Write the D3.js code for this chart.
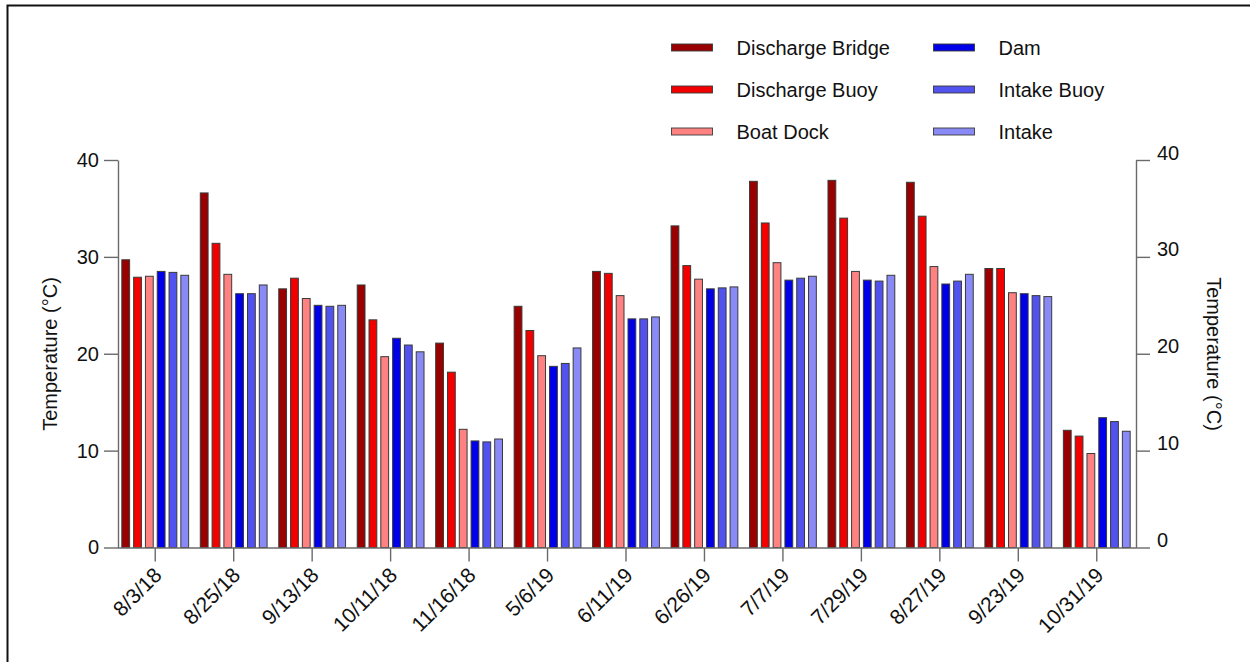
<!DOCTYPE html>
<html>
<head>
<meta charset="utf-8">
<script src="https://cdn.jsdelivr.net/npm/d3@7"></script>
<style>
  html, body { margin: 0; padding: 0; background: #fff; }
  svg { display: block; font-family: "Liberation Sans", Arial, sans-serif; }
</style>
</head>
<body>
<svg id="chart" width="1250" height="662"></svg>
<script>
// Sampling dates
const dates = ["8/3/18", "8/25/18", "9/13/18", "10/11/18", "11/16/18", "5/6/19",
  "6/11/19", "6/26/19", "7/7/19", "7/29/19", "8/27/19", "9/23/19", "10/31/19"];

// Site names (legend order)
const sites = ["Discharge Bridge", "Discharge Buoy", "Boat Dock", "Dam", "Intake Buoy", "Intake"];

// Temperatures (°C) per site, one value per date
const dischargeBridge = [29.7, 36.6, 26.7, 27.1, 21.1, 24.9, 28.5, 33.2, 37.8, 37.9, 37.7, 28.8, 12.1];
const dischargeBuoy   = [27.9, 31.4, 27.8, 23.5, 18.1, 22.4, 28.3, 29.1, 33.5, 34.0, 34.2, 28.8, 11.5];
const boatDock        = [28.0, 28.2, 25.7, 19.7, 12.2, 19.8, 26.0, 27.7, 29.4, 28.5, 29.0, 26.3, 9.7];
const dam             = [28.5, 26.2, 25.0, 21.6, 11.0, 18.7, 23.6, 26.7, 27.6, 27.6, 27.2, 26.2, 13.4];
const intakeBuoy      = [28.4, 26.2, 24.9, 20.9, 10.9, 19.0, 23.6, 26.8, 27.8, 27.5, 27.5, 26.0, 13.0];
const intake          = [28.1, 27.1, 25.0, 20.2, 11.2, 20.6, 23.8, 26.9, 28.0, 28.1, 28.2, 25.9, 12.0];

const yTicks = [0, 10, 20, 30, 40];

const seriesValues = [dischargeBridge, dischargeBuoy, boatDock, dam, intakeBuoy, intake];
const colors = ["#990000", "#f20000", "#ff8282", "#0000e8", "#5252ee", "#8a8af6"];

const svg = d3.select("#chart");

// Outer frame (top and left edges visible)
svg.append("path")
  .attr("d", "M7.5,662 L7.5,5.5 L1250,5.5")
  .attr("fill", "none")
  .attr("stroke", "#111")
  .attr("stroke-width", 2);

const x = d3.scaleBand().domain(dates).range([116, 1136]);
const xs = d3.scaleBand().domain(sites).range([-33.4, 33.4]).paddingInner(0.34);
const y = d3.scaleLinear().domain([0, 40]).range([547.5, 160]);

const color = d3.scaleOrdinal().domain(sites).range(colors);

// Bars
const groups = svg.append("g")
  .selectAll("g")
  .data(dates)
  .join("g")
  .attr("transform", d => `translate(${x(d) + x.bandwidth() / 2},0)`);

groups.selectAll("rect")
  .data((d, i) => sites.map((s, k) => ({ site: s, value: seriesValues[k][i] })))
  .join("rect")
  .attr("x", d => xs(d.site))
  .attr("width", xs.bandwidth())
  .attr("y", d => y(d.value))
  .attr("height", d => y(0) - y(d.value))
  .attr("fill", d => color(d.site))
  .attr("stroke", "#3a3a3a")
  .attr("stroke-width", 1);

const axisColor = "#6a6a6a";

function styleAxis(g) {
  g.selectAll(".domain").attr("stroke", axisColor).attr("stroke-width", 1.4);
  g.selectAll(".tick line").attr("stroke", axisColor).attr("stroke-width", 1.4);
  g.selectAll(".tick text").attr("fill", "#111").attr("font-size", 20)
    .attr("font-family", "'Liberation Sans', Arial, sans-serif");
}

// Left axis
const gLeft = svg.append("g")
  .attr("transform", "translate(118,0)")
  .call(d3.axisLeft(y).tickValues(yTicks).tickSize(14).tickSizeOuter(0).tickPadding(5));
styleAxis(gLeft);

// Right axis
const gRight = svg.append("g")
  .attr("transform", "translate(1136,0)")
  .call(d3.axisRight(y).tickValues(yTicks).tickSize(14).tickSizeOuter(0).tickPadding(7));
styleAxis(gRight);
gRight.selectAll(".tick text").attr("dy", "-0.05em");

// Bottom axis
const gBottom = svg.append("g")
  .attr("transform", `translate(0,${y(0)})`)
  .call(d3.axisBottom(x).tickSize(14).tickSizeOuter(0).tickPadding(0));
styleAxis(gBottom);
gBottom.select(".domain").attr("d", "M118,0.5H1136");
gBottom.selectAll(".tick text")
  .attr("font-size", 21)
  .attr("text-anchor", "end")
  .attr("dy", "0")
  .attr("transform", "translate(-2,19) rotate(-45)");

// Axis titles
svg.append("text")
  .attr("transform", "translate(57,354) rotate(-90)")
  .attr("text-anchor", "middle")
  .attr("font-size", 20)
  .attr("fill", "#111")
  .text("Temperature (°C)");

svg.append("text")
  .attr("transform", "translate(1207,354) rotate(90)")
  .attr("text-anchor", "middle")
  .attr("font-size", 20)
  .attr("fill", "#111")
  .text("Temperature (°C)");

// Legend: two columns of three entries
const legend = svg.append("g")
  .selectAll("g")
  .data(sites)
  .join("g")
  .attr("transform", (d, i) => {
    const col = Math.floor(i / 3), row = i % 3;
    return `translate(${671.5 + col * 262},${47.5 + row * 42})`;
  });

legend.append("rect")
  .attr("x", 0)
  .attr("y", -3.5)
  .attr("width", 41)
  .attr("height", 7)
  .attr("fill", d => color(d))
  .attr("stroke", "#3a3a3a")
  .attr("stroke-width", 0.9);

legend.append("text")
  .attr("x", 65)
  .attr("y", 0)
  .attr("dy", "0.35em")
  .attr("font-size", 20)
  .attr("fill", "#111")
  .text(d => d);
</script>
</body>
</html>
